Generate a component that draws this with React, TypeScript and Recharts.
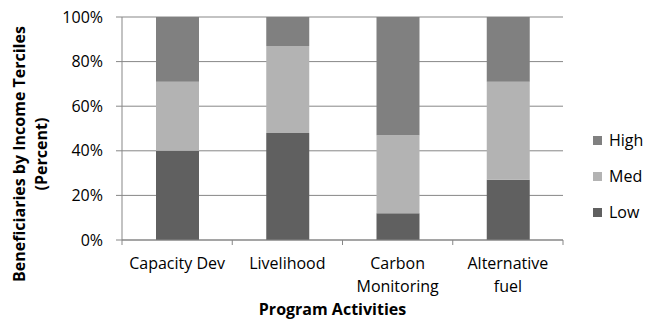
import { BarChart, Bar, XAxis, YAxis, CartesianGrid, Legend, Label } from "recharts";

// Share of beneficiaries in each income tercile, per program activity
const activities = ["Capacity Dev", "Livelihood", "Carbon\nMonitoring", "Alternative\nfuel"];
const lowShare = [40, 48, 12, 27];
const medShare = [31, 39, 35, 44];
const highShare = [29, 13, 53, 29];
const percentTicks = [0, 20, 40, 60, 80, 100];

const series = [
  { key: "low", name: "Low", color: "#606060" },
  { key: "med", name: "Med", color: "#b3b3b3" },
  { key: "high", name: "High", color: "#808080" },
];

const data = activities.map((activity, i) => ({
  activity,
  low: lowShare[i],
  med: medShare[i],
  high: highShare[i],
}));

const FONT = "'Open Sans', sans-serif";
const WIDTH = 646;
const HEIGHT = 330;
const MARGIN = { top: 17, right: 83, left: 0, bottom: 0 };
const Y_AXIS_W = 122;
const X_AXIS_H = 90;
const AXIS_Y = HEIGHT - MARGIN.bottom - X_AXIS_H;
const BAND = (WIDTH - MARGIN.left - MARGIN.right - Y_AXIS_W) / activities.length;
const AXIS_COLOR = "#878787";

const ActivityTick = (props: any) => {
  const { x, payload, index } = props;
  const lines = String(payload.value).split("\n");
  return (
    <g>
      <line x1={x - BAND / 2} x2={x - BAND / 2} y1={AXIS_Y} y2={AXIS_Y + 5} stroke={AXIS_COLOR} />
      {index === activities.length - 1 && (
        <line x1={x + BAND / 2} x2={x + BAND / 2} y1={AXIS_Y} y2={AXIS_Y + 5} stroke={AXIS_COLOR} />
      )}
      <text x={x} y={AXIS_Y + 29} textAnchor="middle" fontSize={16} fill="#000" fontFamily={FONT}>
        {lines.map((line, i) => (
          <tspan key={i} x={x} dy={i === 0 ? 0 : 23}>
            {line}
          </tspan>
        ))}
      </text>
    </g>
  );
};

const YTitle = () => (
  <g fontFamily={FONT} fontWeight="bold" fontSize={16} fill="#000">
    <text transform="translate(25,154) rotate(-90)" textAnchor="middle">
      Beneficiaries by Income Terciles
    </text>
    <text transform="translate(47,154) rotate(-90)" textAnchor="middle">
      (Percent)
    </text>
  </g>
);

const TercileLegend = () => (
  <div style={{ fontFamily: FONT, fontSize: 16, color: "#000" }}>
    {[...series].reverse().map(s => (
      <div key={s.key} style={{ display: "flex", alignItems: "center", height: 36 }}>
        <span style={{ width: 9, height: 9, background: s.color, marginRight: 7 }} />
        <span>{s.name}</span>
      </div>
    ))}
  </div>
);

export default function App() {
  return (
    <div style={{ position: "absolute", left: 0, top: 0, background: "#fff" }}>
      <BarChart width={WIDTH} height={HEIGHT} data={data} margin={MARGIN} barSize={43}>
        <CartesianGrid vertical={false} stroke={AXIS_COLOR} />
        <XAxis
          dataKey="activity"
          height={X_AXIS_H}
          tick={ActivityTick}
          tickLine={false}
          axisLine={{ stroke: AXIS_COLOR }}
          interval={0}
        >
          <Label
            value="Program Activities"
            position="insideBottom"
            offset={15}
            dx={-10}
            style={{ fontFamily: FONT, fontWeight: "bold", fontSize: 16, fill: "#000" }}
          />
        </XAxis>
        <YAxis
          width={Y_AXIS_W}
          domain={[0, 100]}
          ticks={percentTicks}
          tickFormatter={v => `${v}%`}
          tickSize={6}
          tickMargin={13}
          tick={{ fontFamily: FONT, fontSize: 16, fill: "#000" }}
          tickLine={{ stroke: AXIS_COLOR }}
          axisLine={{ stroke: AXIS_COLOR }}
        >
          <Label content={YTitle} />
        </YAxis>
        <Legend
          content={TercileLegend}
          layout="horizontal"
          align="center"
          verticalAlign="middle"
          wrapperStyle={{ position: "absolute", left: 593, top: 122, width: 60 }}
        />
        {series.map(s => (
          <Bar
            key={s.key}
            dataKey={s.key}
            name={s.name}
            stackId="terciles"
            fill={s.color}
            isAnimationActive={false}
          />
        ))}
      </BarChart>
    </div>
  );
}
